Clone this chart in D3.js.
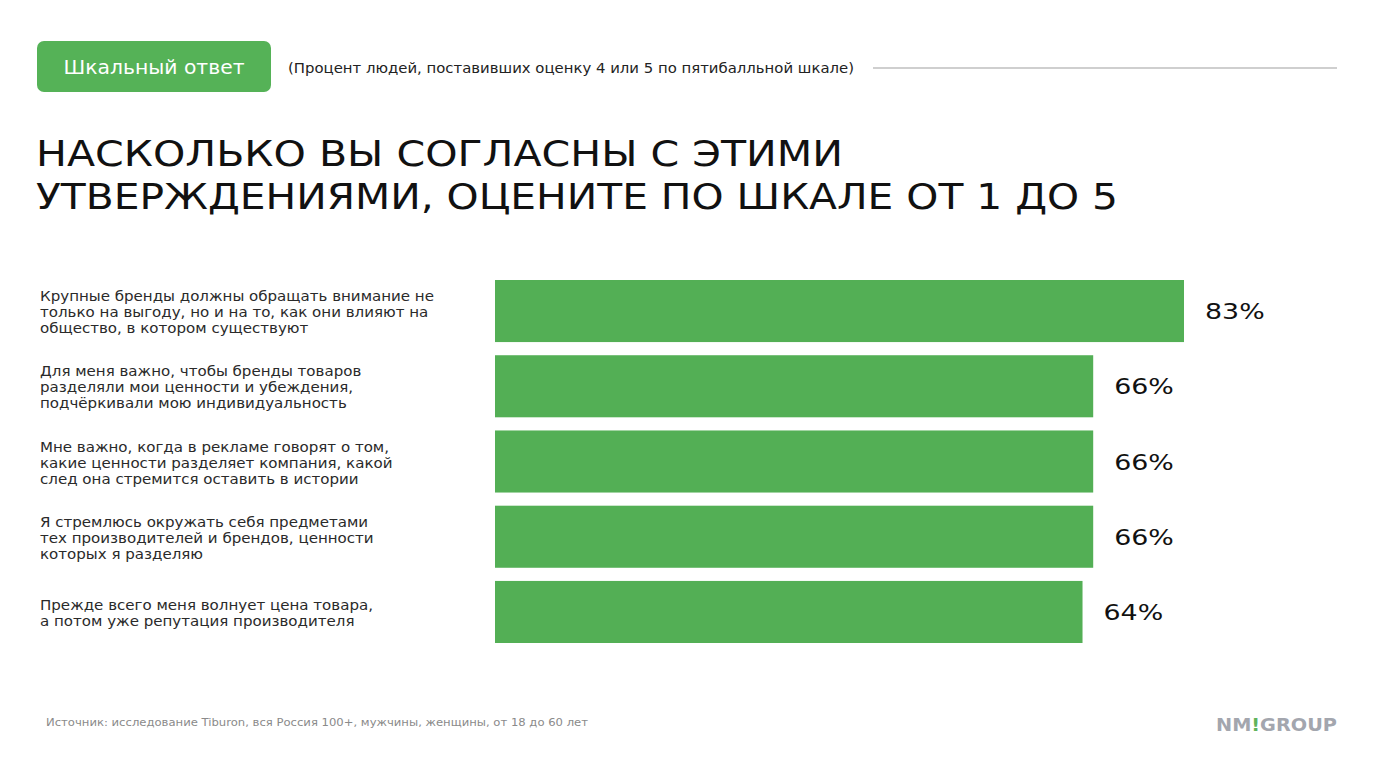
<!DOCTYPE html>
<html>
<head>
<meta charset="utf-8">
<script src="https://cdn.jsdelivr.net/npm/d3@7"></script>
<style>
  html, body { margin: 0; padding: 0; background: #ffffff; }
  svg { display: block; }
</style>
</head>
<body>
<svg id="chart" width="1381" height="763"></svg>
<script>
// ---- data ----
const categories = [
  ["Крупные бренды должны обращать внимание не", "только на выгоду, но и на то, как они влияют на", "общество, в котором существуют"],
  ["Для меня важно, чтобы бренды товаров", "разделяли мои ценности и убеждения,", "подчёркивали мою индивидуальность"],
  ["Мне важно, когда в рекламе говорят о том,", "какие ценности разделяет компания, какой", "след она стремится оставить в истории"],
  ["Я стремлюсь окружать себя предметами", "тех производителей и брендов, ценности", "которых я разделяю"],
  ["Прежде всего меня волнует цена товара,", "а потом уже репутация производителя"]
];
const values = [83, 66, 66, 66, 64];
const valueLabels = ["83%", "66%", "66%", "66%", "64%"];
const badgeText = "Шкальный ответ";
const subtitleText = "(Процент людей, поставивших оценку 4 или 5 по пятибалльной шкале)";
const titleLines = ["НАСКОЛЬКО ВЫ СОГЛАСНЫ С ЭТИМИ", "УТВЕРЖДЕНИЯМИ, ОЦЕНИТЕ ПО ШКАЛЕ ОТ 1 ДО 5"];
const sourceText = "Источник: исследование Tiburon, вся Россия 100+, мужчины, женщины, от 18 до 60 лет";

// ---- styles ----
const GREEN = "#53af55";
const bodyFont = "'DejaVu Sans', sans-serif";
const wideFont = "'DejaVu Sans', sans-serif";

const svg = d3.select("#chart");

function fitWidth(sel, w) {
  sel.attr("textLength", w).attr("lengthAdjust", "spacingAndGlyphs");
}
function stretch(node, k) {
  const w = node.getComputedTextLength();
  d3.select(node).attr("textLength", w * k).attr("lengthAdjust", "spacingAndGlyphs");
}

// header badge
svg.append("rect").attr("x", 37).attr("y", 41).attr("width", 234).attr("height", 51)
  .attr("rx", 7).attr("fill", "#55b257");
const badge = svg.append("text").attr("x", 154).attr("y", 74).attr("text-anchor", "middle")
  .attr("font-family", bodyFont).attr("font-size", 19).attr("fill", "#ffffff").text(badgeText);
fitWidth(badge, 181);

const sub = svg.append("text").attr("x", 288).attr("y", 73)
  .attr("font-family", bodyFont).attr("font-size", 13.5).attr("fill", "#222").text(subtitleText);
fitWidth(sub, 566);

svg.append("line").attr("x1", 873).attr("x2", 1337).attr("y1", 68).attr("y2", 68)
  .attr("stroke", "#cfcfcf").attr("stroke-width", 2);

// title
const titleY = [166, 209];
const titleW = [807, 1082];
titleLines.forEach((t, i) => {
  const el = svg.append("text").attr("x", 36).attr("y", titleY[i])
    .attr("font-family", wideFont).attr("font-size", 35).attr("fill", "#111")
    .text(t);
  fitWidth(el, titleW[i]);
});

// ---- scales ----
const y = d3.scaleBand().domain(d3.range(values.length)).range([280, 643]).paddingInner(0.175).paddingOuter(0);
const x = d3.scaleLinear().domain([-46, 83]).range([495, 1184]);

const g = svg.append("g");

g.selectAll("rect.bar").data(values).join("rect")
  .attr("class", "bar")
  .attr("x", x(-46))
  .attr("y", (d, i) => y(i))
  .attr("width", d => x(d) - x(-46))
  .attr("height", y.bandwidth())
  .attr("fill", GREEN);

// value labels (wide font simulated by horizontal stretch)
g.selectAll("text.val").data(values).join("text")
  .attr("class", "val")
  .attr("x", d => x(d) + 21)
  .attr("y", (d, i) => y(i) + y.bandwidth() / 2 + 8)
  .attr("font-family", wideFont).attr("font-size", 22).attr("fill", "#111")
  .text((d, i) => valueLabels[i])
  .each(function() { stretch(this, 1.22); });

// category labels
const lineH = 16;
categories.forEach((lines, i) => {
  const cy = y(i) + y.bandwidth() / 2 + 1;
  const top = cy - (lines.length - 1) * lineH / 2 + 5;
  lines.forEach((ln, j) => {
    g.append("text").attr("font-family", bodyFont).attr("font-size", 14).attr("fill", "#2a2a2a")
      .attr("x", 40).attr("y", top + j * lineH).text(ln)
      .each(function() { stretch(this, 1.075); });
  });
});

// footer
svg.append("text").attr("x", 46).attr("y", 726)
  .attr("font-family", bodyFont).attr("font-size", 11).attr("fill", "#8a8a8a").text(sourceText)
  .call(s => fitWidth(s, 542));

const logo = svg.append("text").attr("x", 1216).attr("y", 731)
  .attr("font-family", "'DejaVu Sans', sans-serif").attr("font-weight", "bold")
  .attr("font-size", 18).attr("fill", "#a3a6ae");
logo.append("tspan").text("NM");
logo.append("tspan").attr("fill", "#5fb35c").text("!");
logo.append("tspan").text("GROUP");
fitWidth(logo, 121);
</script>
</body>
</html>
